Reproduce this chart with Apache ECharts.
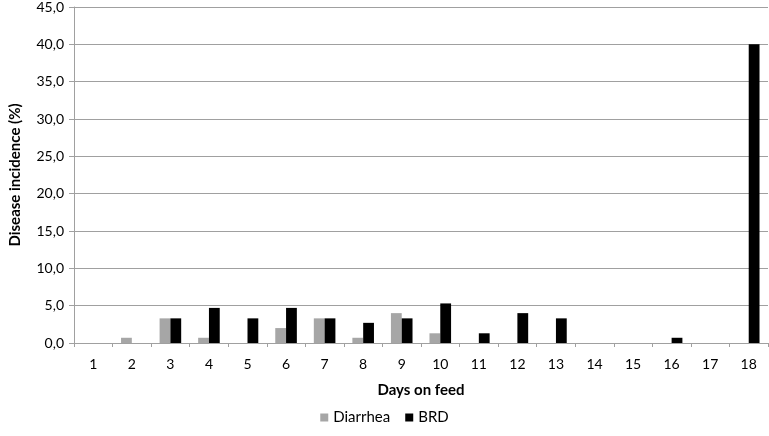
<!DOCTYPE html>
<html><head><meta charset="utf-8">
<script src="https://cdn.jsdelivr.net/npm/echarts@6/dist/echarts.min.js"></script>
<style>html,body{margin:0;padding:0;background:#fff}#c{width:769px;height:436px}</style>
</head><body><div id="c"></div>
<script>
var days = ['1','2','3','4','5','6','7','8','9','10','11','12','13','14','15','16','17','18'];
var diarrhea = [0, 0.7, 3.3, 0.7, 0, 2.0, 3.3, 0.7, 4.0, 1.3, 0, 0, 0, 0, 0, 0, 0, 0];
var brd = [0, 0, 3.3, 4.7, 3.3, 4.7, 3.3, 2.7, 3.3, 5.3, 1.3, 4.0, 3.3, 0, 0, 0.7, 0, 40.0];
var seriesNames = ['Diarrhea', 'BRD'];
var FONT = 'Lato';
var chart = echarts.init(document.getElementById('c'));
chart.setOption({
  animation: false,
  textStyle: {fontFamily: FONT},
  grid: {left: 62, right: 1, top: 5, bottom: 93},
  legend: {
    data: seriesNames, bottom: 6, left: 'center', itemWidth: 8, itemHeight: 8, itemGap: 15,
    icon: 'rect', textStyle: {fontFamily: FONT, fontSize: 15, color: '#000'}
  },
  xAxis: {
    type: 'category', data: days,
    name: 'Days on feed', nameLocation: 'middle', nameGap: 40,
    nameTextStyle: {fontFamily: FONT, fontWeight: 'bold', fontSize: 15, color: '#000'},
    axisLine: {lineStyle: {color: '#a0a0a0', width: 1}},
    axisTick: {show: true, length: 4, lineStyle: {color: '#a0a0a0'}},
    axisLabel: {fontFamily: FONT, fontSize: 14, color: '#000', margin: 14}
  },
  yAxis: {
    type: 'value', min: 0, max: 45, interval: 5,
    name: 'Disease incidence (%)', nameLocation: 'middle', nameGap: 51, nameRotate: 90,
    nameTextStyle: {fontFamily: FONT, fontWeight: 'bold', fontSize: 15, color: '#000'},
    axisLine: {show: true, lineStyle: {color: '#a0a0a0', width: 1}},
    axisTick: {show: true, length: 5, lineStyle: {color: '#a0a0a0'}},
    axisLabel: {fontFamily: FONT, fontSize: 14, color: '#000', margin: 10,
      formatter: function(v){ return v.toFixed(1).replace('.', ','); }},
    splitLine: {lineStyle: {color: '#a0a0a0', width: 1}}
  },
  series: [
    {name: seriesNames[0], type: 'bar', data: diarrhea, barGap: '0%', barCategoryGap: '44%',
     itemStyle: {color: '#a6a6a6'}},
    {name: seriesNames[1], type: 'bar', data: brd, barGap: '0%', barCategoryGap: '44%',
     itemStyle: {color: '#000000'}}
  ]
});
</script></body></html>
